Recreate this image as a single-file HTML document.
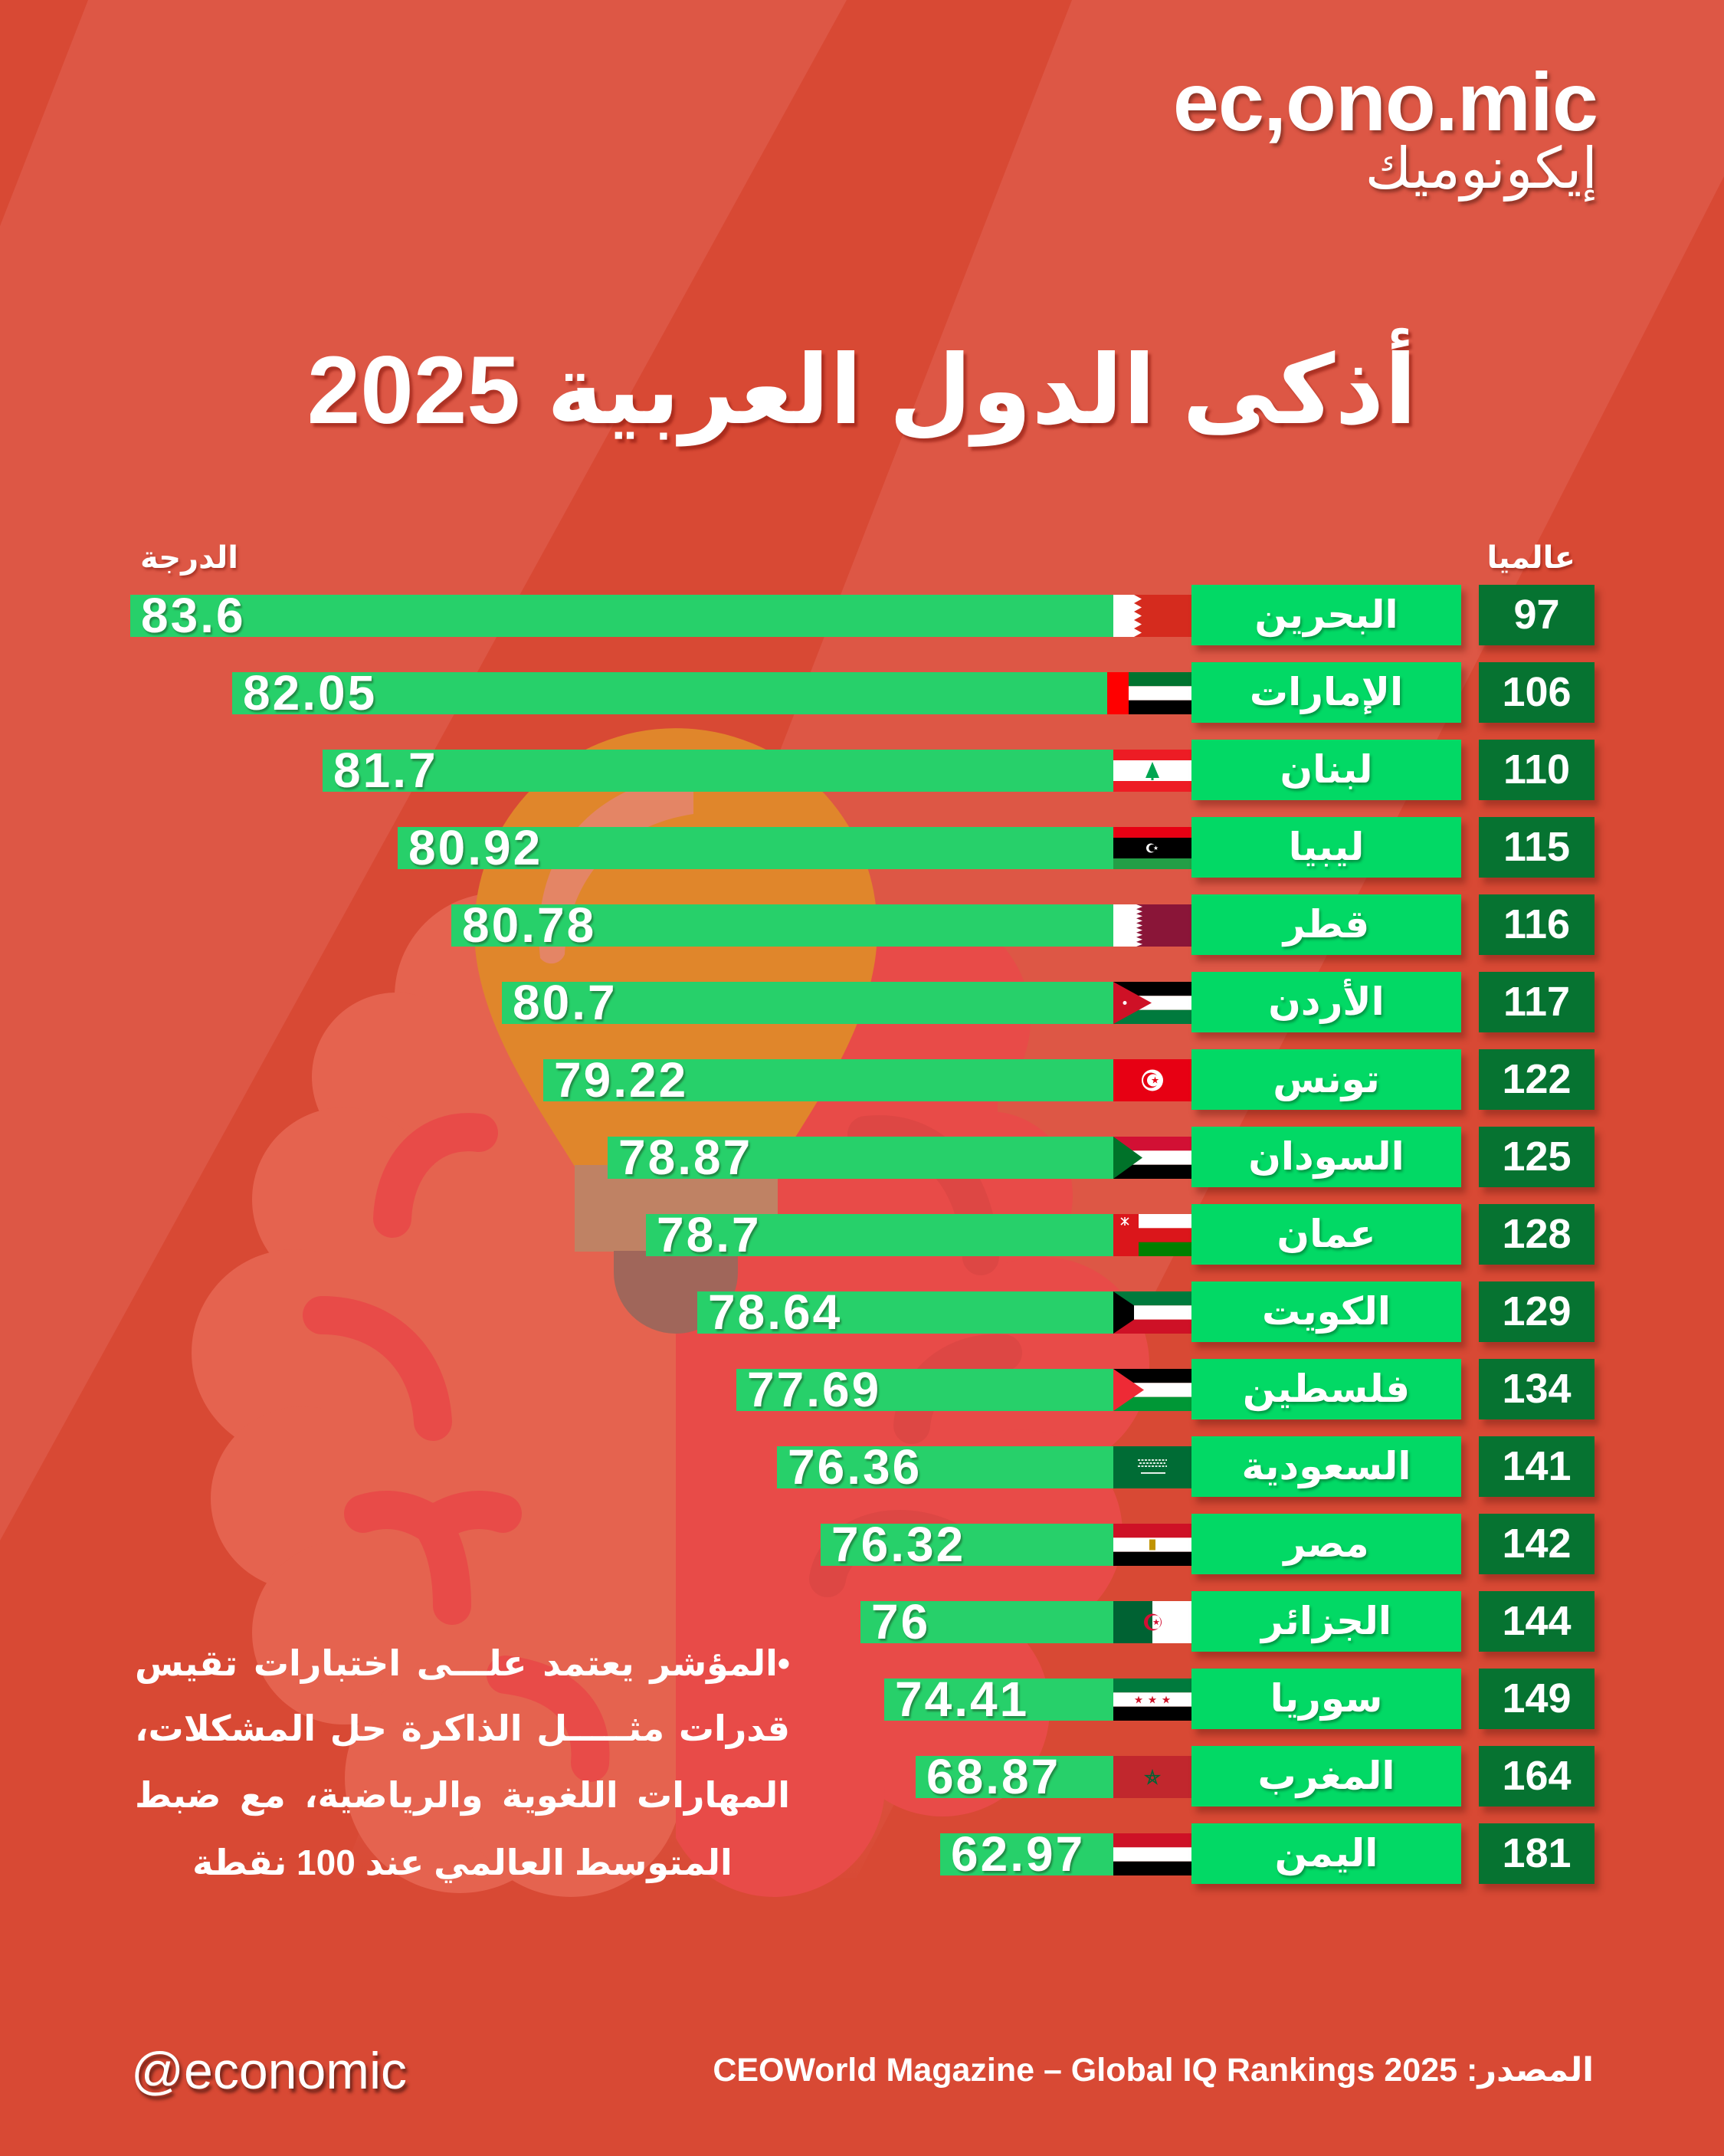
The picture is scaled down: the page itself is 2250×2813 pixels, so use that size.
<!DOCTYPE html>
<html lang="ar">
<head>
<meta charset="utf-8">
<style>
html,body{margin:0;padding:0;}
body{width:2250px;height:2813px;position:relative;overflow:hidden;background:#d84934;font-family:"Liberation Sans","DejaVu Sans",sans-serif;}
.abs{position:absolute;}
.bar{position:absolute;height:55px;background:#27d06a;}
.val{position:absolute;left:14px;top:0;font:bold 64px/55px "Liberation Sans",sans-serif;color:#fff;letter-spacing:3px;white-space:nowrap;text-shadow:2px 3px 2px rgba(30,80,40,0.55);}
.flag{position:absolute;left:1453px;width:102px;height:55px;}
.nm{position:absolute;left:1555px;width:352px;height:79px;background:#02d965;color:#fff;text-align:center;direction:rtl;font:bold 50px/79px "DejaVu Sans",sans-serif;box-shadow:6px 8px 8px rgba(110,30,20,0.45);text-shadow:2px 3px 3px rgba(0,70,30,0.45);white-space:nowrap;}
.rk{position:absolute;left:1930px;width:151px;height:79px;background:#067331;color:#fff;text-align:center;font:bold 54px/79px "Liberation Sans",sans-serif;box-shadow:6px 8px 8px rgba(110,30,20,0.45);}
.note{position:absolute;left:176px;width:855px;height:86px;direction:rtl;font:bold 46px/86px "Liberation Sans","DejaVu Sans",sans-serif;color:#fff;white-space:nowrap;text-align:justify;text-align-last:justify;}
</style>
</head>
<body>
<svg class="abs" style="left:0;top:0" width="2250" height="2813" viewBox="0 0 2250 2813">
  <defs>
    <linearGradient id="fade" x1="0" y1="0" x2="0" y2="2813" gradientUnits="userSpaceOnUse">
      <stop offset="0" stop-color="#dd5745"/>
      <stop offset="0.78" stop-color="#dd5745"/>
      <stop offset="0.88" stop-color="#dd5745" stop-opacity="0"/>
    </linearGradient>
    <clipPath id="cl"><rect x="0" y="0" width="882" height="2813"/></clipPath>
    <clipPath id="cr"><rect x="882" y="0" width="1368" height="2813"/></clipPath>
  </defs>
  <rect width="2250" height="2813" fill="#d84934"/>
  <polygon points="115,0 1105,0 0,2010 0,295" fill="#dd5745"/>
  <polygon points="1399,0 2250,0 2250,230 1118,2450 446,2450" fill="url(#fade)"/>
  <!-- brain left half -->
  <g clip-path="url(#cl)" fill="#e5634f">
    <circle cx="650" cy="1300" r="135"/>
    <circle cx="517" cy="1405" r="110"/>
    <circle cx="449" cy="1565" r="120"/>
    <circle cx="385" cy="1765" r="135"/>
    <circle cx="395" cy="1955" r="120"/>
    <circle cx="449" cy="2130" r="120"/>
    <circle cx="600" cy="2320" r="150"/>
    <circle cx="745" cy="2330" r="145"/>
    <circle cx="780" cy="1260" r="140"/>
    <rect x="560" y="1300" width="330" height="1030"/>
    <rect x="420" y="1500" width="470" height="700"/>
  </g>
  <g fill="none" stroke="#e84b48" stroke-width="50" stroke-linecap="round">
    <path d="M625,1478 C560,1470 515,1520 512,1590"/>
    <path d="M420,1716 C500,1716 560,1770 565,1855"/>
    <path d="M474,1975 Q520,1960 565,1990 Q610,1960 656,1975 M565,1990 Q590,2030 590,2095"/>
    <path d="M660,2185 C740,2195 775,2240 770,2300"/>
  </g>
  <!-- brain right half -->
  <g clip-path="url(#cr)" fill="#e84b48">
    <circle cx="1200" cy="1330" r="145"/>
    <circle cx="1290" cy="1560" r="110"/>
    <circle cx="1360" cy="1780" r="140"/>
    <circle cx="1330" cy="2000" r="135"/>
    <circle cx="1230" cy="2230" r="140"/>
    <circle cx="1010" cy="2330" r="145"/>
    <rect x="882" y="1250" width="420" height="1080"/>
  </g>
  <g fill="none" stroke="#dd4744" stroke-width="48" stroke-linecap="round">
    <path d="M1130,1480 C1220,1470 1275,1540 1280,1640"/>
    <path d="M1190,1860 C1195,1800 1250,1760 1310,1765"/>
    <path d="M1080,2060 C1090,2000 1170,1975 1240,2010"/>
  </g>
  <!-- bulb -->
  <path d="M750,1522 C700,1440 619,1330 619,1213 A263,263 0 0 1 1145,1213 C1145,1330 1064,1440 1014,1522 Z" fill="#e0862b"/>
  <path d="M905,1010 C780,1020 690,1110 705,1250 C715,1262 732,1258 737,1245 C742,1150 800,1078 905,1062 Z" fill="#e48565"/>
  <rect x="750" y="1520" width="265" height="113" fill="#bf8264"/>
  <path d="M801,1632 L963,1632 L963,1660 A81,80 0 0 1 801,1660 Z" fill="#a0665a"/>
</svg>

<!-- logo -->
<div class="abs" style="right:165px;top:79px;font:bold 108px/108px 'Liberation Sans',sans-serif;color:#fff;letter-spacing:-1px;text-shadow:3px 4px 4px rgba(90,30,20,0.6);white-space:nowrap;">ec,ono.mic</div>
<div class="abs" style="right:165px;top:172px;font:74px/96px 'DejaVu Sans',sans-serif;color:#fff;direction:rtl;text-shadow:3px 4px 4px rgba(90,30,20,0.6);white-space:nowrap;">إيكونوميك</div>

<!-- title -->
<div class="abs" style="left:0;width:2250px;top:447px;text-align:center;direction:rtl;font:bold 125px/125px 'Liberation Sans','DejaVu Sans',sans-serif;color:#fff;text-shadow:4px 5px 3px rgba(140,25,15,0.6);white-space:nowrap;">أذكى الدول العربية 2025</div>

<!-- headers -->
<div class="abs" style="right:194px;top:700px;direction:rtl;font:bold 40px/56px 'DejaVu Sans',sans-serif;color:#fff;text-shadow:2px 3px 3px rgba(120,20,10,0.5);">عالميا</div>
<div class="abs" style="left:183px;top:700px;direction:rtl;font:bold 40px/56px 'DejaVu Sans',sans-serif;color:#fff;text-shadow:2px 3px 3px rgba(120,20,10,0.5);">الدرجة</div>

<!-- bars -->
<div class="bar" style="left:170px;top:776px;width:1283px"><span class="val">83.6</span></div>
<div class="bar" style="left:303px;top:877px;width:1150px"><span class="val">82.05</span></div>
<div class="bar" style="left:421px;top:978px;width:1032px"><span class="val">81.7</span></div>
<div class="bar" style="left:519px;top:1079px;width:934px"><span class="val">80.92</span></div>
<div class="bar" style="left:589px;top:1180px;width:864px"><span class="val">80.78</span></div>
<div class="bar" style="left:655px;top:1281px;width:798px"><span class="val">80.7</span></div>
<div class="bar" style="left:709px;top:1382px;width:744px"><span class="val">79.22</span></div>
<div class="bar" style="left:793px;top:1483px;width:660px"><span class="val">78.87</span></div>
<div class="bar" style="left:843px;top:1584px;width:610px"><span class="val">78.7</span></div>
<div class="bar" style="left:910px;top:1685px;width:543px"><span class="val">78.64</span></div>
<div class="bar" style="left:961px;top:1786px;width:492px"><span class="val">77.69</span></div>
<div class="bar" style="left:1014px;top:1887px;width:439px"><span class="val">76.36</span></div>
<div class="bar" style="left:1071px;top:1988px;width:382px"><span class="val">76.32</span></div>
<div class="bar" style="left:1123px;top:2089px;width:330px"><span class="val">76</span></div>
<div class="bar" style="left:1154px;top:2190px;width:299px"><span class="val">74.41</span></div>
<div class="bar" style="left:1195px;top:2291px;width:258px"><span class="val">68.87</span></div>
<div class="bar" style="left:1227px;top:2392px;width:226px"><span class="val">62.97</span></div>

<!-- flags -->
<svg class="flag" style="top:776px" viewBox="0 0 102 55" preserveAspectRatio="none"><rect width="102" height="55" fill="#d52b1e"/><polygon fill="#fff" points="0,0 27,0 37,5.5 27,11 37,16.5 27,22 37,27.5 27,33 37,38.5 27,44 37,49.5 27,55 0,55"/></svg>
<svg class="flag" style="top:877px;left:1445px;width:110px" viewBox="0 0 110 55" preserveAspectRatio="none"><rect width="28" height="55" fill="#ff0000"/><rect x="28" width="82" height="18.3" fill="#00732f"/><rect x="28" y="18.3" width="82" height="18.4" fill="#fff"/><rect x="28" y="36.7" width="82" height="18.3" fill="#000"/></svg>
<svg class="flag" style="top:978px" viewBox="0 0 102 55" preserveAspectRatio="none"><rect width="102" height="55" fill="#fff"/><rect width="102" height="14" fill="#ed1c24"/><rect y="41" width="102" height="14" fill="#ed1c24"/><polygon fill="#00a651" points="51,16 60,37 42,37"/><rect x="49.5" y="36" width="3" height="4" fill="#00a651"/></svg>
<svg class="flag" style="top:1079px" viewBox="0 0 102 55" preserveAspectRatio="none"><rect width="102" height="14" fill="#e70013"/><rect y="14" width="102" height="27" fill="#000"/><rect y="41" width="102" height="14" fill="#239e46"/><circle cx="49" cy="27.5" r="6" fill="#fff"/><circle cx="51" cy="27.5" r="4.8" fill="#000"/><polygon fill="#fff" transform="translate(55.5,27.5) scale(3.2)" points="0,-1 0.225,-0.309 0.951,-0.309 0.363,0.118 0.588,0.809 0,0.382 -0.588,0.809 -0.363,0.118 -0.951,-0.309 -0.225,-0.309"/></svg>
<svg class="flag" style="top:1180px" viewBox="0 0 102 55" preserveAspectRatio="none"><rect width="102" height="55" fill="#8a1538"/><polygon fill="#fff" points="0,0 30,0 38,3 30,6.1 38,9.2 30,12.2 38,15.3 30,18.3 38,21.4 30,24.4 38,27.5 30,30.6 38,33.6 30,36.7 38,39.7 30,42.8 38,45.8 30,48.9 38,51.9 30,55 0,55"/></svg>
<svg class="flag" style="top:1281px" viewBox="0 0 102 55" preserveAspectRatio="none"><rect width="102" height="18.3" fill="#000"/><rect y="18.3" width="102" height="18.4" fill="#fff"/><rect y="36.7" width="102" height="18.3" fill="#007a3d"/><polygon fill="#ce1126" points="0,0 50,27.5 0,55"/><circle cx="15" cy="27.5" r="2.5" fill="#fff"/></svg>
<svg class="flag" style="top:1382px" viewBox="0 0 102 55" preserveAspectRatio="none"><rect width="102" height="55" fill="#e70013"/><circle cx="51" cy="27.5" r="14" fill="#fff"/><circle cx="49" cy="27.5" r="10" fill="#e70013"/><circle cx="52" cy="27.5" r="8" fill="#fff"/><polygon fill="#e70013" transform="translate(54.5,27.5) scale(5)" points="0,-1 0.225,-0.309 0.951,-0.309 0.363,0.118 0.588,0.809 0,0.382 -0.588,0.809 -0.363,0.118 -0.951,-0.309 -0.225,-0.309"/></svg>
<svg class="flag" style="top:1483px" viewBox="0 0 102 55" preserveAspectRatio="none"><rect width="102" height="18.3" fill="#d21034"/><rect y="18.3" width="102" height="18.4" fill="#fff"/><rect y="36.7" width="102" height="18.3" fill="#000"/><polygon fill="#007229" points="0,0 38,27.5 0,55"/></svg>
<svg class="flag" style="top:1584px" viewBox="0 0 102 55" preserveAspectRatio="none"><rect width="102" height="55" fill="#db161b"/><rect x="33" width="69" height="18.3" fill="#fff"/><rect x="33" y="36.7" width="69" height="18.3" fill="#008000"/><path d="M10,5 L20,14 M20,5 L10,14 M15,4 L15,15" stroke="#fff" stroke-width="1.6"/></svg>
<svg class="flag" style="top:1685px" viewBox="0 0 102 55" preserveAspectRatio="none"><rect width="102" height="18.3" fill="#007a3d"/><rect y="18.3" width="102" height="18.4" fill="#fff"/><rect y="36.7" width="102" height="18.3" fill="#ce1126"/><polygon fill="#000" points="0,0 27,18.3 27,36.7 0,55"/></svg>
<svg class="flag" style="top:1786px" viewBox="0 0 102 55" preserveAspectRatio="none"><rect width="102" height="18.3" fill="#000"/><rect y="18.3" width="102" height="18.4" fill="#fff"/><rect y="36.7" width="102" height="18.3" fill="#009736"/><polygon fill="#ee2a35" points="0,0 40,27.5 0,55"/></svg>
<svg class="flag" style="top:1887px" viewBox="0 0 102 55" preserveAspectRatio="none"><rect width="102" height="55" fill="#006c35"/><path d="M32,18 h38 M34,22 h34 M32,26 h38" stroke="#fff" stroke-width="2" stroke-dasharray="3 1.5" opacity="0.85"/><rect x="36" y="34" width="32" height="1.8" fill="#fff"/></svg>
<svg class="flag" style="top:1988px" viewBox="0 0 102 55" preserveAspectRatio="none"><rect width="102" height="18.3" fill="#ce1126"/><rect y="18.3" width="102" height="18.4" fill="#fff"/><rect y="36.7" width="102" height="18.3" fill="#000"/><rect x="47" y="20.5" width="8" height="14" fill="#c09300"/></svg>
<svg class="flag" style="top:2089px" viewBox="0 0 102 55" preserveAspectRatio="none"><rect width="51" height="55" fill="#006233"/><rect x="51" width="51" height="55" fill="#fff"/><path fill="#d21034" fill-rule="evenodd" d="M62,27.5 A11,11 0 1 1 40,27.5 A11,11 0 1 1 62,27.5 Z M63,27.5 A9,9 0 1 1 45,27.5 A9,9 0 1 1 63,27.5 Z"/><polygon fill="#d21034" transform="translate(56,27.5) scale(4.5)" points="0,-1 0.225,-0.309 0.951,-0.309 0.363,0.118 0.588,0.809 0,0.382 -0.588,0.809 -0.363,0.118 -0.951,-0.309 -0.225,-0.309"/></svg>
<svg class="flag" style="top:2190px" viewBox="0 0 102 55" preserveAspectRatio="none"><rect width="102" height="18.3" fill="#007a3d"/><rect y="18.3" width="102" height="18.4" fill="#fff"/><rect y="36.7" width="102" height="18.3" fill="#000"/><g fill="#ce1126"><polygon transform="translate(33,28) scale(5.5)" points="0,-1 0.225,-0.309 0.951,-0.309 0.363,0.118 0.588,0.809 0,0.382 -0.588,0.809 -0.363,0.118 -0.951,-0.309 -0.225,-0.309"/><polygon transform="translate(51,28) scale(5.5)" points="0,-1 0.225,-0.309 0.951,-0.309 0.363,0.118 0.588,0.809 0,0.382 -0.588,0.809 -0.363,0.118 -0.951,-0.309 -0.225,-0.309"/><polygon transform="translate(69,28) scale(5.5)" points="0,-1 0.225,-0.309 0.951,-0.309 0.363,0.118 0.588,0.809 0,0.382 -0.588,0.809 -0.363,0.118 -0.951,-0.309 -0.225,-0.309"/></g></svg>
<svg class="flag" style="top:2291px" viewBox="0 0 102 55" preserveAspectRatio="none"><rect width="102" height="55" fill="#c1272d"/><polygon fill="none" stroke="#006233" stroke-width="0.18" transform="translate(51,28.5) scale(9)" points="0,-1 0.588,0.809 -0.951,-0.309 0.951,-0.309 -0.588,0.809"/></svg>
<svg class="flag" style="top:2392px" viewBox="0 0 102 55" preserveAspectRatio="none"><rect width="102" height="18.3" fill="#ce1126"/><rect y="18.3" width="102" height="18.4" fill="#fff"/><rect y="36.7" width="102" height="18.3" fill="#000"/></svg>

<!-- name boxes -->
<div class="nm" style="top:763px">البحرين</div>
<div class="nm" style="top:864px">الإمارات</div>
<div class="nm" style="top:965px">لبنان</div>
<div class="nm" style="top:1066px">ليبيا</div>
<div class="nm" style="top:1167px">قطر</div>
<div class="nm" style="top:1268px">الأردن</div>
<div class="nm" style="top:1369px">تونس</div>
<div class="nm" style="top:1470px">السودان</div>
<div class="nm" style="top:1571px">عمان</div>
<div class="nm" style="top:1672px">الكويت</div>
<div class="nm" style="top:1773px">فلسطين</div>
<div class="nm" style="top:1874px">السعودية</div>
<div class="nm" style="top:1975px">مصر</div>
<div class="nm" style="top:2076px">الجزائر</div>
<div class="nm" style="top:2177px">سوريا</div>
<div class="nm" style="top:2278px">المغرب</div>
<div class="nm" style="top:2379px">اليمن</div>

<!-- rank boxes -->
<div class="rk" style="top:763px">97</div>
<div class="rk" style="top:864px">106</div>
<div class="rk" style="top:965px">110</div>
<div class="rk" style="top:1066px">115</div>
<div class="rk" style="top:1167px">116</div>
<div class="rk" style="top:1268px">117</div>
<div class="rk" style="top:1369px">122</div>
<div class="rk" style="top:1470px">125</div>
<div class="rk" style="top:1571px">128</div>
<div class="rk" style="top:1672px">129</div>
<div class="rk" style="top:1773px">134</div>
<div class="rk" style="top:1874px">141</div>
<div class="rk" style="top:1975px">142</div>
<div class="rk" style="top:2076px">144</div>
<div class="rk" style="top:2177px">149</div>
<div class="rk" style="top:2278px">164</div>
<div class="rk" style="top:2379px">181</div>

<!-- note -->
<div class="note" style="top:2127px">•المؤشر يعتمد علـــى اختبارات تقيس</div>
<div class="note" style="top:2212px">قدرات مثـــــل الذاكرة حل المشكلات،</div>
<div class="note" style="top:2299px">المهارات اللغوية والرياضية، مع ضبط</div>
<div class="note" style="top:2387px;text-align:center;text-align-last:center">المتوسط العالمي عند 100 نقطة</div>

<!-- footer -->
<div class="abs" style="left:171px;top:2668px;font:68px/68px 'Liberation Sans',sans-serif;color:#fff;white-space:nowrap;text-shadow:3px 5px 4px rgba(70,20,15,0.75);">@economic</div>
<div class="abs" style="right:170px;top:2680px;direction:rtl;font:bold 43px/43px 'Liberation Sans','DejaVu Sans',sans-serif;color:#fff;white-space:nowrap;">المصدر: CEOWorld Magazine – Global IQ Rankings 2025</div>
</body>
</html>
